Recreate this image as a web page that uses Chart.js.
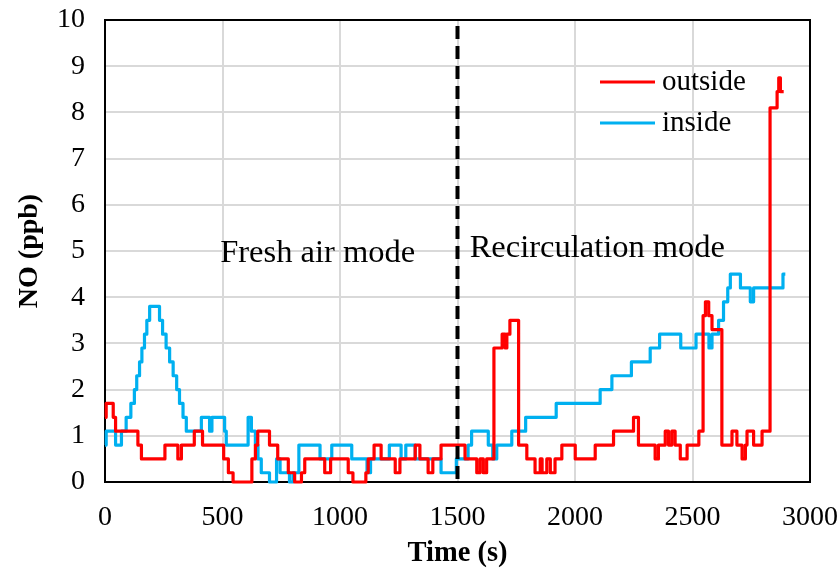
<!DOCTYPE html>
<html>
<head>
<meta charset="utf-8">
<script src="https://cdn.jsdelivr.net/npm/chart.js@4.4.0/dist/chart.umd.min.js"></script>
<style>
    html, body { margin: 0; padding: 0; background: #fff; }
    #wrap { width: 839px; height: 575px; }
</style>
</head>
<body>
<div id="wrap"><canvas id="chart" width="839" height="575"></canvas></div>
<script>
// NO readings, each point = time where the value changes (s) and the new value (ppb)
var outsideTime = [0, 5, 35, 45, 140, 155, 255, 310, 325, 380, 415, 505, 525, 545, 625, 640, 650, 700, 735, 780,
    807, 836, 850, 935, 960, 1035, 1055, 1110, 1120, 1145, 1175, 1235, 1255, 1320, 1340, 1375, 1395, 1430, 1532, 1582,
    1596, 1610, 1624, 1655, 1690, 1703, 1710, 1723, 1760, 1795, 1830, 1852, 1860, 1880, 1895, 1915, 1944, 2001, 2086, 2164,
    2249, 2270, 2341, 2355, 2384, 2398, 2412, 2426, 2448, 2477, 2527, 2545, 2555, 2569, 2583, 2625, 2668, 2689, 2711, 2725,
    2732, 2760, 2796, 2830, 2860, 2867, 2874, 2888];
var outsideNO = [1.4, 1.7, 1.4, 1.1, 0.8, 0.5, 0.8, 0.5, 0.8, 1.1, 0.8, 0.5, 0.2, 0, 0.5, 0.8, 1.1, 0.8, 0.5, 0.2,
    0, 0.2, 0.5, 0.2, 0.5, 0.2, 0, 0.2, 0.5, 0.8, 0.5, 0.2, 0.5, 0.8, 0.5, 0.2, 0.5, 0.8, 0.5, 0.2,
    0.5, 0.2, 0.5, 2.9, 3.2, 2.9, 3.2, 3.5, 0.8, 0.5, 0.2, 0.5, 0.2, 0.5, 0.2, 0.5, 0.8, 0.5, 0.8, 1.1,
    1.4, 0.8, 0.5, 0.8, 1.1, 0.8, 1.1, 0.8, 0.5, 0.8, 1.1, 3.6, 3.9, 3.6, 3.3, 0.8, 1.1, 0.8, 0.5, 0.8,
    1.1, 0.8, 1.1, 8.1, 8.45, 8.75, 8.45, 8.45];

var insideTime = [0, 5, 45, 70, 90, 110, 125, 135, 147, 157, 168, 178, 190, 232, 245, 260, 275, 290, 305, 317,
    332, 346, 410, 445, 455, 509, 516, 609, 623, 640, 651, 665, 700, 730, 745, 785, 800, 825, 915, 965,
    1050, 1115, 1130, 1210, 1260, 1280, 1320, 1430, 1495, 1545, 1560, 1631, 1650, 1667, 1731, 1790, 1920, 2107, 2157, 2240,
    2320, 2360, 2450, 2515, 2570, 2583, 2611, 2632, 2650, 2661, 2704, 2746, 2760, 2885, 2895];
var insideNO = [0.8, 1.1, 0.8, 1.1, 1.4, 1.7, 2.0, 2.3, 2.6, 2.9, 3.2, 3.5, 3.8, 3.5, 3.2, 2.9, 2.6, 2.3, 2.0, 1.7,
    1.4, 1.1, 1.4, 1.1, 1.4, 1.1, 0.8, 1.4, 1.1, 0.8, 0.5, 0.2, 0, 0.5, 0.2, 0, 0.2, 0.8, 0.5, 0.8,
    0.5, 0.2, 0.5, 0.8, 0.5, 0.8, 0.5, 0.2, 0.5, 0.8, 1.1, 0.8, 0.5, 0.8, 1.1, 1.4, 1.7, 2.0, 2.3, 2.6,
    2.9, 3.2, 2.9, 3.2, 2.9, 3.2, 3.5, 3.9, 4.2, 4.5, 4.2, 3.9, 4.2, 4.5, 4.5];

var seriesNames = ['outside', 'inside'];
var seriesColors = ['#ff0000', '#00b0f0'];
var xMin = 0, xMax = 3000, xStep = 500;
var yMin = 0, yMax = 10, yStep = 1;
var modeSwitchTime = 1500;
// label text, centre time, centre value
var modeLabels = [['Fresh air mode', 905, 4.95], ['Recirculation mode', 2095, 5.05]];

var serif = '"Liberation Serif", "Times New Roman", serif';

function toPoints(times, values) {
    return times.map(function (t, i) { return { x: t, y: values[i] }; });
}

var overlay = {
    id: 'overlay',
    beforeDatasetsDraw: function (chart) {
        var a = chart.chartArea, ctx = chart.ctx;
        ctx.save();
        ctx.strokeStyle = '#000';
        ctx.lineWidth = 2;
        ctx.strokeRect(a.left, a.top, a.right - a.left, a.bottom - a.top);
        ctx.restore();
    },
    afterDatasetsDraw: function (chart) {
        var a = chart.chartArea, ctx = chart.ctx;
        var xs = chart.scales.x, ys = chart.scales.y;
        ctx.save();
        // mode switch line
        var px = xs.getPixelForValue(modeSwitchTime);
        ctx.strokeStyle = '#000';
        ctx.lineWidth = 4;
        ctx.setLineDash([13, 7]);
        ctx.beginPath();
        ctx.moveTo(px, a.top + 6);
        ctx.lineTo(px, a.bottom + 4);
        ctx.stroke();
        ctx.setLineDash([]);

        ctx.fillStyle = '#000';
        ctx.font = '32.5px ' + serif;
        ctx.textAlign = 'center';
        ctx.textBaseline = 'middle';
        modeLabels.forEach(function (m) {
            ctx.fillText(m[0], xs.getPixelForValue(m[1]), ys.getPixelForValue(m[2]));
        });

        // legend inside the plot
        ctx.font = '29px ' + serif;
        ctx.textAlign = 'left';
        chart.data.datasets.forEach(function (ds, i) {
            var y = 82 + i * 41;
            ctx.strokeStyle = ds.borderColor;
            ctx.lineWidth = 3;
            ctx.beginPath();
            ctx.moveTo(600, y);
            ctx.lineTo(655, y);
            ctx.stroke();
            ctx.fillStyle = '#000';
            ctx.fillText(ds.label, 662, y);
        });
        ctx.restore();
    }
};

function plainTick(v) { return String(v); }

new Chart(document.getElementById('chart'), {
    type: 'line',
    data: {
        datasets: [
            { label: seriesNames[0], data: toPoints(outsideTime, outsideNO), borderColor: seriesColors[0] },
            { label: seriesNames[1], data: toPoints(insideTime, insideNO), borderColor: seriesColors[1] }
        ]
    },
    options: {
        responsive: false,
        animation: false,
        devicePixelRatio: 1,
        layout: { padding: { left: 0, right: 29, top: 20, bottom: 0 } },
        datasets: {
            line: { stepped: true, borderWidth: 3.2, pointRadius: 0, fill: false, clip: false, borderJoinStyle: 'round' }
        },
        plugins: { legend: { display: false }, tooltip: { enabled: false } },
        scales: {
            x: {
                type: 'linear', min: xMin, max: xMax,
                ticks: { stepSize: xStep, color: '#000', padding: 19, maxRotation: 0, callback: plainTick,
                    font: { family: serif, size: 28 } },
                grid: { color: '#d9d9d9', lineWidth: 2, drawTicks: false },
                border: { display: false },
                title: { display: true, text: 'Time (s)', color: '#000', padding: { top: 0, bottom: 4 },
                    font: { family: serif, size: 28.5, weight: 'bold' } },
                afterFit: function (s) { s.height = 93; s.paddingLeft = 0; s.paddingRight = 0; }
            },
            y: {
                min: yMin, max: yMax,
                ticks: { stepSize: yStep, color: '#000', padding: 20, callback: plainTick,
                    font: { family: serif, size: 28 } },
                grid: { color: '#d9d9d9', lineWidth: 2, drawTicks: false },
                border: { display: false },
                title: { display: true, text: 'NO (ppb)', color: '#000', padding: { top: 13, bottom: 0 },
                    font: { family: serif, size: 28, weight: 'bold' } },
                afterFit: function (s) { s.width = 105; s.paddingTop = 0; s.paddingBottom = 0; }
            }
        }
    },
    plugins: [overlay]
});
</script>
</body>
</html>
